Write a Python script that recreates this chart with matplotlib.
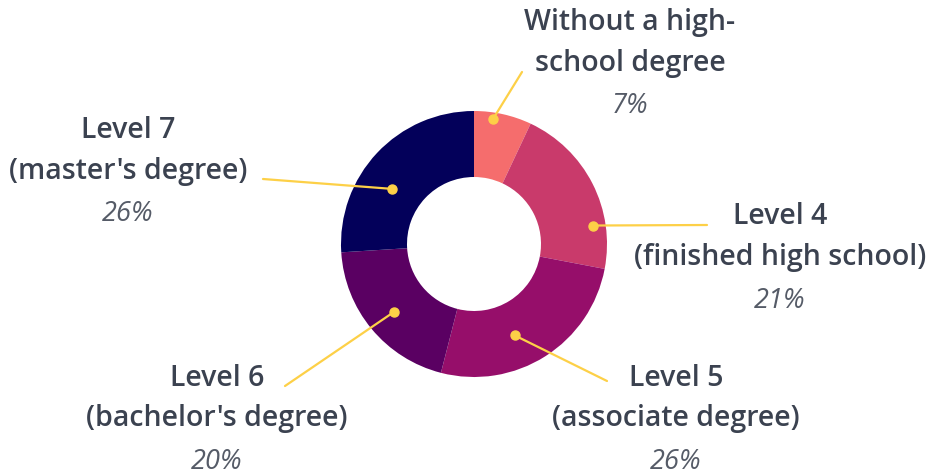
import numpy as np
import matplotlib
matplotlib.use("Agg")
from matplotlib import pyplot as plt

# datos del gráfico (en orden, empezando arriba y en sentido horario)
labels = ["Without a high-\nschool degree",
          "Level 4\n(finished high school)",
          "Level 5\n(associate degree)",
          "Level 6\n(bachelor's degree)",
          "Level 7\n(master's degree)"]
shares = [7, 21, 26, 20, 26]
colors = ["#f56d6d", "#c93a6b", "#960e6a", "#5a0062", "#03005a"]

# posición (px) del centro del texto y del extremo de la línea guía
text_pos = [(630, 22), (780, 217), (676, 378), (217, 378), (128, 130)]
line_end = [(522, 72), (707, 225), (607, 381), (285, 386), (263, 179)]
# dónde cae el punto dentro de cada porción (fracción del ángulo, radio px)
dot_frac = [0.34, 0.74, 0.59, 0.49, 0.40]
dot_rad = [126, 120, 100, 105, 99]

W, H = 929, 475
fig = plt.figure(figsize=(W / 100, H / 100), dpi=100)
ax = fig.add_axes([0, 0, 1, 1])

cx, cy = 474, H - 244
R = 133
ax.pie(shares, colors=colors, startangle=90, counterclock=False,
       radius=R, center=(cx, cy), wedgeprops=dict(width=R - 67, linewidth=0))

ax.set_xlim(0, W)
ax.set_ylim(0, H)
ax.set_aspect("equal")
ax.axis("off")

txt_color = "#3b4250"
yellow = "#fdd047"
gap = 41

cum = 0
for i, lab in enumerate(labels):
    v = shares[i]
    tx, ty = text_pos[i]
    lx, ly = line_end[i]
    ang = np.deg2rad(90 - 360 * (cum + v * dot_frac[i]) / sum(shares))
    cum += v
    dx = cx + dot_rad[i] * np.cos(ang)
    dy = cy + dot_rad[i] * np.sin(ang)
    ax.plot([dx, lx], [dy, H - ly], color=yellow, lw=1.6, solid_capstyle="round", zorder=3)
    ax.plot(dx, dy, "o", color=yellow, ms=6.5, zorder=4)
    lines = lab.split("\n")
    for k, ln in enumerate(lines):
        ax.text(tx, H - (ty + k * gap), ln, ha="center", va="center",
                fontsize=20.5, fontweight="semibold", family="Open Sans", color=txt_color)
    ax.text(tx, H - (ty + len(lines) * gap + 2), f"{v}%", ha="center", va="center",
            fontsize=19.5, fontstyle="italic", fontweight="normal", family="Open Sans",
            color="#555b67")

fig.savefig("out.png", dpi=100)
